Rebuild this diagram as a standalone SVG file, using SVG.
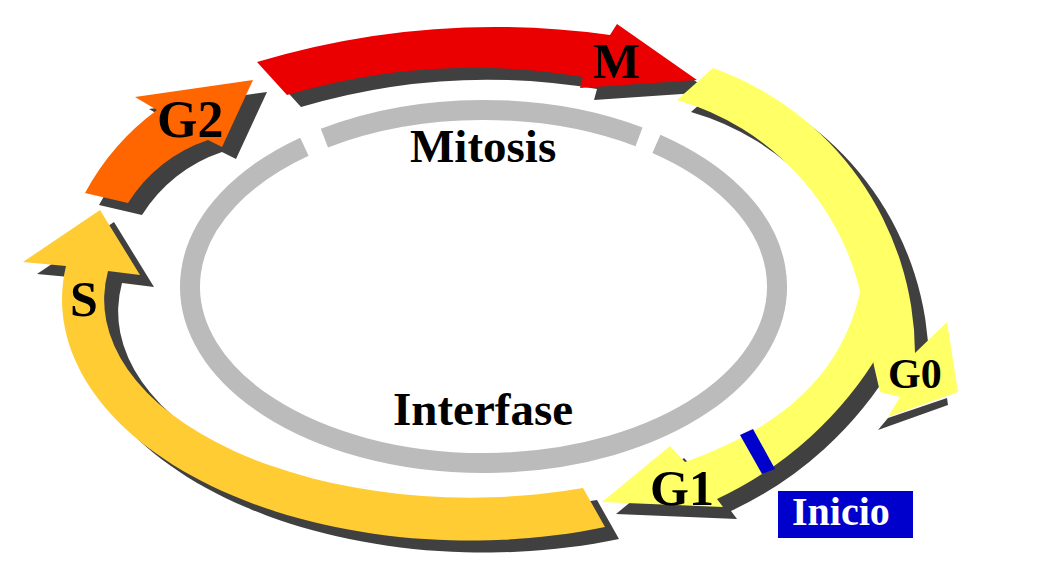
<svg xmlns="http://www.w3.org/2000/svg" xmlns:xlink="http://www.w3.org/1999/xlink" width="1038" height="576" viewBox="0 0 1038 576">
<style>
.sh{fill:#404040}
.lbl{font-family:"Liberation Serif","Times New Roman",serif;font-weight:bold;fill:#000}
.ring{fill:none;stroke:#BBBBBB;stroke-width:20}
</style>
<defs>
<path id="pS" d="M583,488 L605,527 A408 241 0 0 1 66,266 L23,262 L100,210 L140,275 L108,271 A366 198 0 0 0 583,488 Z"/>
<path id="pG2" d="M128,203 L85,193 A250 250 0 0 1 157,110 L135,97 L253,80 L222,147 L208,140 A150 150 0 0 0 128,203 Z"/>
<path id="pM" d="M287,95 L257,62 A834 834 0 0 1 610,35 L617,24 L697,80 L580,88 L583,77 A657 657 0 0 0 287,95 Z"/>
<path id="pB" d="M866,230 C868,360 790,425 685,462 L670,446 L602,502 L723,507 L717,499 A374 374 0 0 0 881,350 Z"/>
<path id="pA" d="M677,100 L713,68 A304 304 0 0 1 915,353 L947,322 L958,392 L888,417 L900,397 L880,392 L874,366 L862,300 A263 263 0 0 0 677,100 Z"/>
<path id="pAshaft" d="M677,100 L713,68 A304 304 0 0 1 915,353 L874,366 L862,300 A263 263 0 0 0 677,100 Z"/>
</defs>
<rect width="1038" height="576" fill="#FFFFFF"/>
<g id="ring">
<path class="ring" d="M656.4,143.9 A293.5 176.5 0 1 1 304.4,146.7"/>
<path class="ring" d="M324.4,138.1 A293.5 176.5 0 0 1 639,136.8"/>
<text class="lbl" x="410" y="162" font-size="47">Mitosis</text>
<text class="lbl" x="393" y="425" font-size="47">Interfase</text>
</g>
<g id="phase-S">
<use xlink:href="#pS" class="sh" transform="translate(14,12)"/>
<use xlink:href="#pS" fill="#FFCC33"/>
<text class="lbl" x="70" y="316" font-size="50">S</text>
</g>
<g id="phase-G2">
<use xlink:href="#pG2" class="sh" transform="translate(14,12)"/>
<use xlink:href="#pG2" fill="#FF6600"/>
<text class="lbl" x="157" y="137" font-size="52">G2</text>
</g>
<g id="phase-M">
<use xlink:href="#pM" class="sh" transform="translate(14,12)"/>
<use xlink:href="#pM" fill="#EA0000"/>
<text class="lbl" x="593" y="78" font-size="50">M</text>
</g>
<g id="phase-G1">
<use xlink:href="#pB" class="sh" transform="translate(14,12)"/>
<use xlink:href="#pB" fill="#FFFF66"/>
<text class="lbl" x="650" y="505" font-size="50">G1</text>
</g>
<g id="phase-G0">
<use xlink:href="#pAshaft" class="sh" transform="translate(14,12)"/>
<polygon class="sh" points="888,418 947,398 948,405 878,430"/>
<use xlink:href="#pA" fill="#FFFF66"/>
<text class="lbl" x="888" y="388" font-size="42">G0</text>
</g>
<g id="inicio">
<polygon points="740,435 753,429 775,469 762,474" fill="#0000CC"/>
<rect x="778" y="491" width="135" height="47" fill="#0000CC"/>
<text class="lbl" x="792" y="525" font-size="40" style="fill:#FFFFFF">Inicio</text>
</g>
<g id="connectors"/>
</svg>
